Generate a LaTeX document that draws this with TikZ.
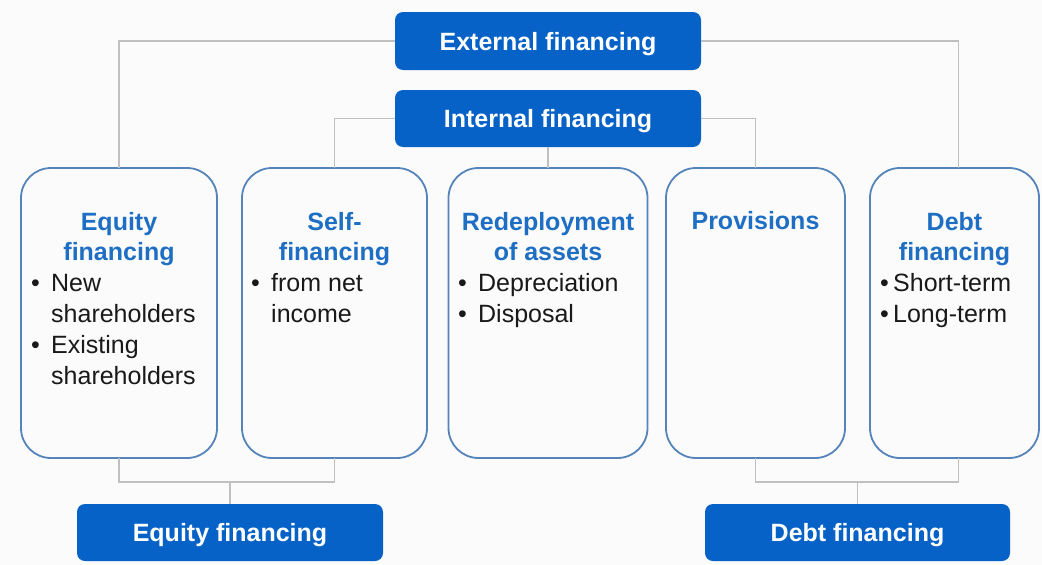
\documentclass[tikz,border=0pt]{standalone}
\usepackage{fontspec}
\setmainfont{Liberation Sans}
\definecolor{bgc}{RGB}{251,251,251}
\definecolor{darkblue}{RGB}{6,98,198}
\definecolor{titleblue}{RGB}{30,110,196}
\definecolor{boxborder}{RGB}{84,132,186}
\definecolor{conncol}{RGB}{192,192,192}
\definecolor{bodytext}{RGB}{25,25,25}
\newcommand{\bul}[1]{\makebox[#1][l]{\textbullet}}
\tikzset{
  bluebox/.style={fill=darkblue, rounded corners=8pt, inner sep=0pt, outer sep=0pt,
    text=white, font=\fontsize{25}{30}\selectfont\bfseries, text height=18pt, text depth=0pt},
  colbox/.style={draw=boxborder, line width=1.8pt, rounded corners=30pt, inner sep=0pt, outer sep=0pt,
    fill=bgc, minimum height=290pt},
  coltitle/.style={anchor=base, inner sep=0pt, text=titleblue, font=\fontsize{25}{30}\selectfont\bfseries},
  colline/.style={anchor=base west, inner sep=0pt, text=bodytext, font=\fontsize{25}{30}\selectfont},
  conn/.style={draw=conncol, line width=1.6pt}
}
\begin{document}
\begin{tikzpicture}[x=1pt,y=-1pt]
\fill[bgc] (0,0) rectangle (1042,565);
\useasboundingbox (0,0) rectangle (1042,565);

% top boxes
\node[bluebox, minimum width=306pt, minimum height=58pt] (ext) at (548,41) {External financing};
\node[bluebox, minimum width=306pt, minimum height=57pt] (int) at (548,118.5) {Internal financing};

% column boxes
\node[colbox, minimum width=196pt] (b1) at (119,313) {};
\node[colbox, minimum width=185pt] (b2) at (334.5,313) {};
\node[colbox, minimum width=199pt] (b3) at (548,313) {};
\node[colbox, minimum width=179pt] (b4) at (755.5,313) {};
\node[colbox, minimum width=169pt] (b5) at (954.5,313) {};

% bottom boxes
\node[bluebox, minimum width=306pt, minimum height=57pt] (eq) at (230,532.5) {Equity financing};
\node[bluebox, minimum width=305pt, minimum height=57pt] (debt) at (857.5,532.5) {Debt financing};

% connectors top
\coordinate (b5top) at ([xshift=4pt]b5.north);
\coordinate (b5bot) at ([xshift=4pt]b5.south);
\draw[conn] (ext.west) -| (b1.north);
\draw[conn] (ext.east) -| (b5top);
\draw[conn] (int.west) -| (b2.north);
\draw[conn] (int.east) -| (b4.north);
\draw[conn] (int.south) -- (b3.north);

% connectors bottom
\coordinate (ej) at (230,482);
\coordinate (dj) at (857.5,482);
\draw[conn] (b1.south) |- (ej) -| (b2.south);
\draw[conn] (ej) -- (eq.north);
\draw[conn] (b4.south) |- (dj) -| (b5bot);
\draw[conn] (dj) -- (debt.north);

% column 1 text
\node[coltitle] (t1a) at (119,230) {Equity};
\node[coltitle] (t1b) at (119,260) {financing};
\node[colline] (l1a) at (31,291) {\bul{20pt}New};
\node[colline] (l1b) at (51,322) {shareholders};
\node[colline] (l1c) at (31,353) {\bul{20pt}Existing};
\node[colline] (l1d) at (51,384) {shareholders};

% column 2 text
\node[coltitle] (t2a) at (334.5,230) {Self-};
\node[coltitle] (t2b) at (334.5,260) {financing};
\node[colline] (l2a) at (251,291) {\bul{20pt}from net};
\node[colline] (l2b) at (271,322) {income};

% column 3 text
\node[coltitle] (t3a) at (548,230) {Redeployment};
\node[coltitle] (t3b) at (548,260) {of assets};
\node[colline] (l3a) at (458,291) {\bul{20pt}Depreciation};
\node[colline] (l3b) at (458,322) {\bul{20pt}Disposal};

% column 4 text
\node[coltitle] (t4a) at (755.5,229) {Provisions};

% column 5 text
\node[coltitle] (t5a) at (954.5,230) {Debt};
\node[coltitle] (t5b) at (954.5,260) {financing};
\node[colline] (l5a) at (880,291) {\bul{13pt}Short-term};
\node[colline] (l5b) at (880,322) {\bul{13pt}Long-term};
\end{tikzpicture}
\end{document}
